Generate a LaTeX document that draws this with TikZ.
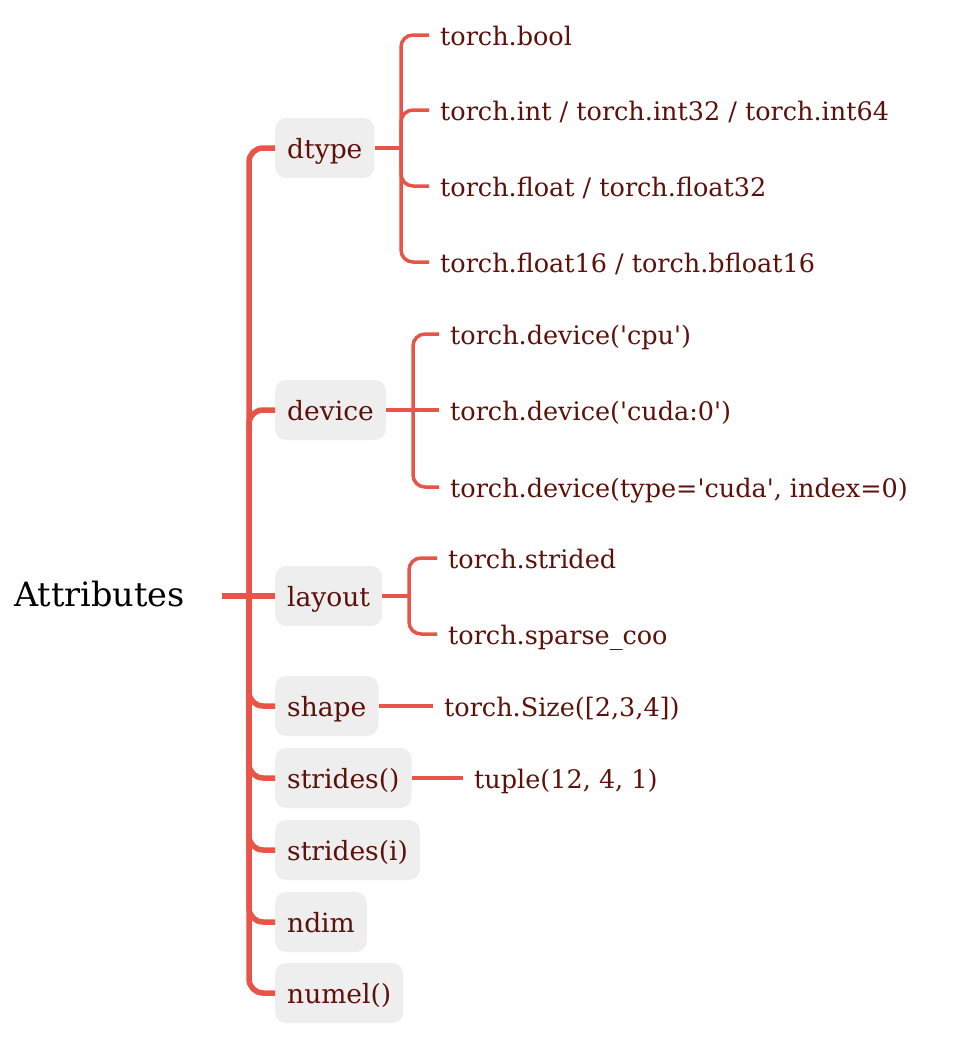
\documentclass[tikz,border=0pt]{standalone}
\usepackage{fontspec}
\newfontfamily\dvserif{DejaVu Serif}
\definecolor{lineRed}{RGB}{232,85,72}
\definecolor{txtRed}{RGB}{92,18,10}
\definecolor{boxGray}{RGB}{238,238,238}
\begin{document}
\begin{tikzpicture}[x=1pt,y=-1pt,
 rootnode/.style={font=\dvserif\fontsize{33.5}{38}\selectfont, text=black, inner xsep=37pt, inner ysep=0pt, text height=20pt, text depth=0pt},
 childnode/.style={fill=boxGray, rounded corners=11pt, font=\dvserif\fontsize{26.5}{30}\selectfont, text=txtRed, inner xsep=12pt, minimum height=60pt, text height=20.5pt, text depth=0pt, anchor=west},
 leafnode/.style={font=\dvserif\fontsize{25.5}{30}\selectfont, text=txtRed, inner xsep=11pt, inner ysep=0pt, text height=20pt, text depth=0pt, anchor=west},
 trunk/.style={draw=lineRed, line width=5.5pt, rounded corners=14pt},
 twig/.style={draw=lineRed, line width=3.5pt, rounded corners=12pt},
]
\useasboundingbox (0,0) rectangle (954,1044);
% root
\node[rootnode] (root) at (99.5,596) {Attributes};
% children
\node[childnode] (dtype) at (275,148) {dtype};
\node[childnode] (device) at (275,410) {device};
\node[childnode] (layout) at (275,596) {layout};
\node[childnode] (shape) at (275,706) {shape};
\node[childnode] (strides) at (275,778) {strides()};
\node[childnode] (stridesi) at (275,850) {strides(i)};
\node[childnode] (ndim) at (275,922) {ndim};
\node[childnode] (numel) at (275,993) {numel()};
% leaves
\node[leafnode] (bool) at (429,35) {torch.bool};
\node[leafnode] (int) at (429,110) {torch.int / torch.int32 / torch.int64};
\node[leafnode] (float) at (429,186) {torch.float / torch.float32};
\node[leafnode] (half) at (429,262) {torch.float16 / torch.bfloat16};
\node[leafnode] (cpu) at (439,334) {torch.device('cpu')};
\node[leafnode] (cuda) at (439,410) {torch.device('cuda:0')};
\node[leafnode] (cudaidx) at (439,487) {torch.device(type='cuda', index=0)};
\node[leafnode] (strided) at (437,558) {torch.strided};
\node[leafnode] (sparse) at (437,634) {torch.sparse\_coo};
\node[leafnode] (size) at (433,706) {torch.Size([2,3,4])};
\node[leafnode] (tuple) at (463,778) {tuple(12, 4, 1)};
% junctions
\coordinate (tj) at (249,596);
\coordinate (dj) at (401,148);
\coordinate (vj) at (413,410);
\coordinate (lj) at (409,596);
% trunk connectors
\path[trunk] (root.east) -- (layout.west);
\foreach \c in {dtype,device,shape,strides,stridesi,ndim,numel}
  \path[trunk] (tj) |- (\c.west);
% dtype twigs
\path[twig] (dtype.east) -- (dj);
\foreach \l in {bool,int,float,half}
  \path[twig] (dj) |- (\l.west);
% device twigs
\path[twig] (device.east) -- (cuda.west);
\foreach \l in {cpu,cudaidx}
  \path[twig] (vj) |- (\l.west);
% layout twigs
\path[twig] (layout.east) -- (lj);
\foreach \l in {strided,sparse}
  \path[twig] (lj) |- (\l.west);
% single twigs
\path[twig] (shape.east) -- (size.west);
\path[twig] (strides.east) -- (tuple.west);
\end{tikzpicture}
\end{document}
